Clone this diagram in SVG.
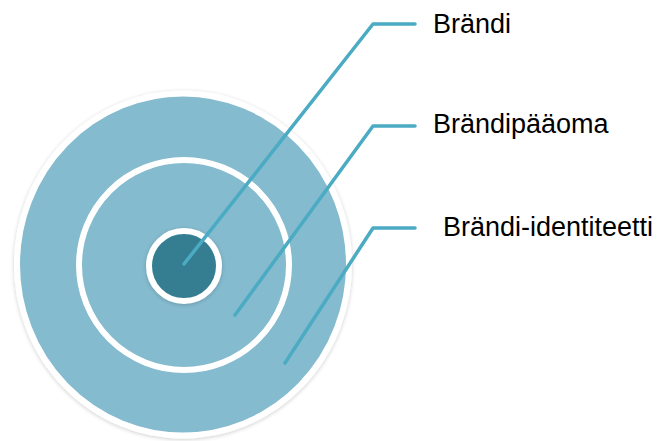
<svg xmlns="http://www.w3.org/2000/svg" width="662" height="441" viewBox="0 0 662 441">
<defs>
<filter id="sh" x="-10%" y="-10%" width="120%" height="120%">
<feGaussianBlur in="SourceAlpha" stdDeviation="2"/>
<feOffset dx="0" dy="1"/>
<feComponentTransfer><feFuncA type="linear" slope="0.2"/></feComponentTransfer>
<feMerge><feMergeNode/><feMergeNode in="SourceGraphic"/></feMerge>
</filter>
</defs>
<style>
.lbl{font-family:"Liberation Sans",Arial,sans-serif;font-size:27px;fill:#000}
.con{fill:none;stroke:#4AABC3;stroke-width:3.5;stroke-linejoin:round;stroke-linecap:round}
</style>
<rect width="662" height="441" fill="#fff"/>
<g id="outer" filter="url(#sh)">
<ellipse cx="183" cy="264.5" rx="166" ry="171" fill="#85BBCF" stroke="#fff" stroke-width="6"/>
</g>
<g id="middle">
<circle cx="184" cy="265" r="105" fill="#85BBCF" stroke="#fff" stroke-width="6"/>
</g>
<g id="inner" filter="url(#sh)">
<circle cx="184" cy="266" r="35" fill="#347E92" stroke="#fff" stroke-width="6"/>
</g>
<g id="connectors">
<polyline class="con" points="184,264 373,24 415,24"/>
<polyline class="con" points="235,315 373,126 415,126"/>
<polyline class="con" points="285,363 373,228 415,228"/>
</g>
<g id="label-brandi"><text class="lbl" x="433" y="33">Brändi</text></g>
<g id="label-brandipaaoma"><text class="lbl" x="433" y="133">Brändipääoma</text></g>
<g id="label-identiteetti"><text class="lbl" x="443" y="236">Brändi-identiteetti</text></g>
</svg>
